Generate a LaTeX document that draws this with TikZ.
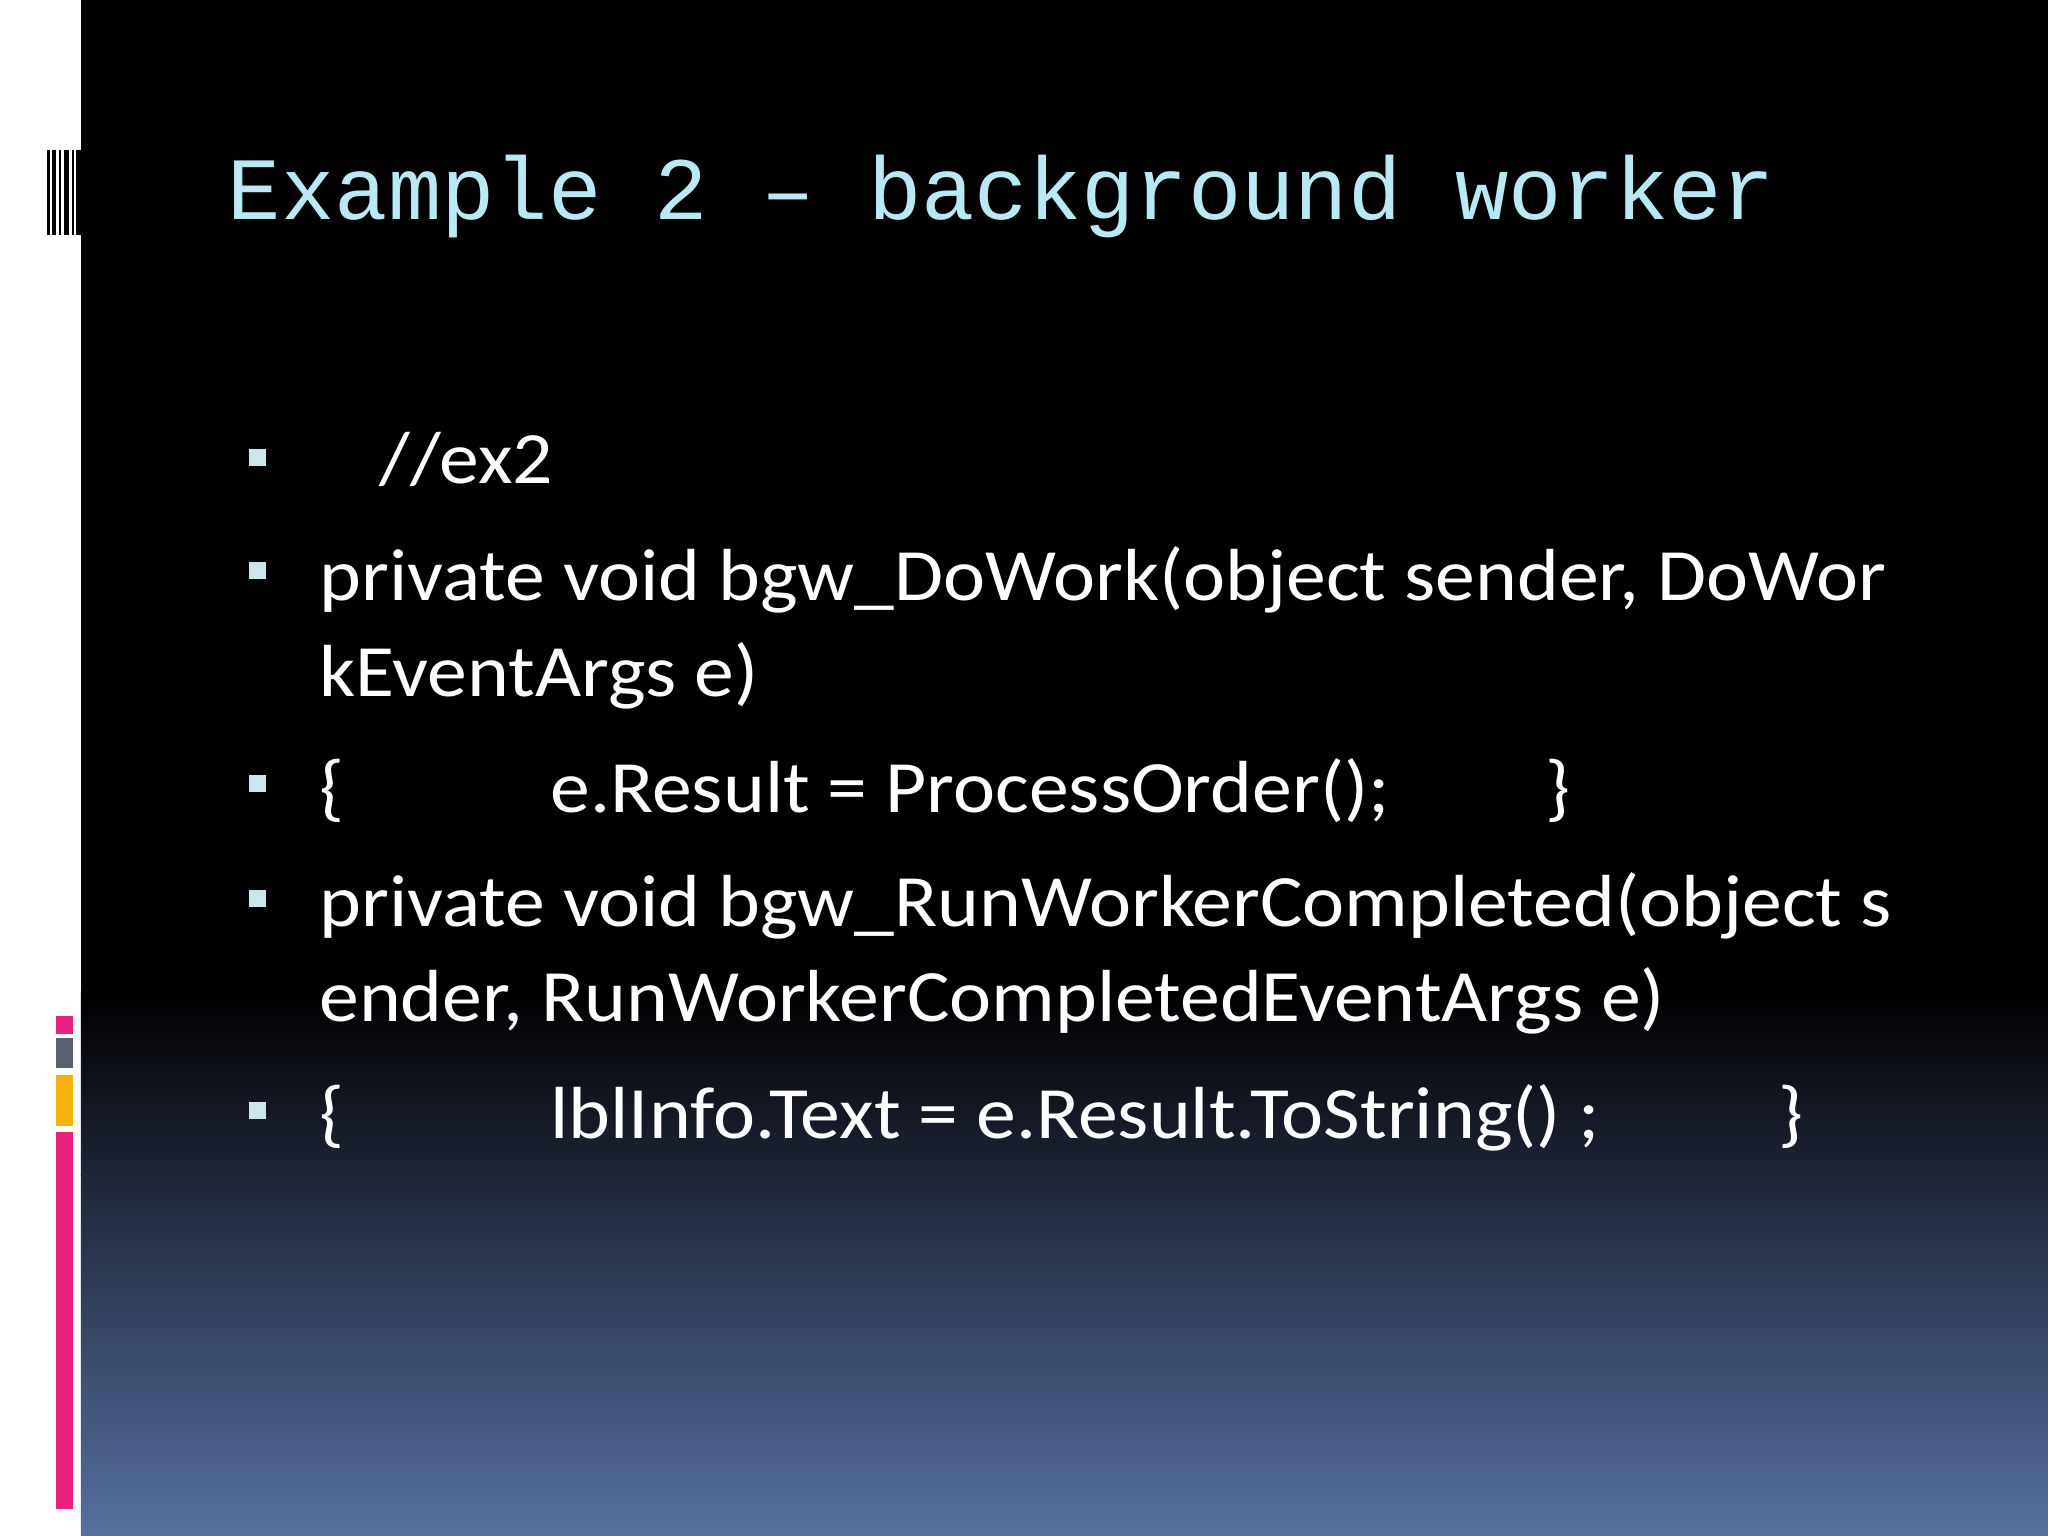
\documentclass[tikz,border=0pt]{standalone}
\usepackage{fontspec}
\setmainfont{Carlito}[FakeStretch=1.08]
\newfontfamily\monof{Liberation Mono}
\definecolor{titlec}{HTML}{B9E9F2}
\definecolor{bulc}{HTML}{CDE6EE}
\definecolor{pinkc}{HTML}{E8207E}
\definecolor{greyc}{HTML}{5A6070}
\definecolor{orangec}{HTML}{F7B20F}
\definecolor{midc}{HTML}{1F2536}
\definecolor{botc}{HTML}{5670A0}
\begin{document}
\begin{tikzpicture}[x=0.01306cm,y=-0.01306cm,
  body/.style={anchor=base west,inner sep=0pt,text=white,font=\fontsize{21}{24}\selectfont},
  bul/.style={fill=bulc,minimum size=0.17cm,inner sep=0pt}]
\useasboundingbox (0,0) rectangle (1568,1176);
\fill[white] (0,0) rectangle (62,1176);
\fill[black] (62,0) rectangle (1568,760);
\shade[top color=black,bottom color=midc] (62,759) rectangle (1568,900);
\shade[top color=midc,bottom color=botc] (62,899) rectangle (1568,1176);
% barcode
\foreach \x/\w in {36/2,40/3,45/2,49/4,55/2,58/4}{\fill[black] (\x,115) rectangle ++(\w,65);}
\fill[pinkc] (43,778) rectangle (56,792);
\fill[greyc] (43,795) rectangle (56,818);
\fill[orangec] (43,823) rectangle (56,862);
\fill[pinkc] (43,867) rectangle (56,1155);
\node[anchor=base west,inner sep=0pt,text=titlec,font=\monof\fontsize{25.3}{28}\selectfont] (title) at (174,168) {Example 2 – background worker};
\foreach \y [count=\i] in {350,437,600,688,850}{\node[bul] (b\i) at (197,\y) {};}
\node[body] (l1) at (290,370) {//ex2};
\node[body] (l2a) at (244,460) {private void bgw\_DoWork(object sender, DoWor};
\node[body] (l2b) at (244,533) {kEventArgs e)};
\node[body] (l3a) at (244,622) {\{};
\node[body] (l3b) at (421,622) {e.Result = ProcessOrder();};
\node[body] (l3c) at (1183,622) {\}};
\node[body] (l4a) at (244,709) {private void bgw\_RunWorkerCompleted(object s};
\node[body] (l4b) at (244,782) {ender, RunWorkerCompletedEventArgs e)};
\node[body] (l5a) at (244,872) {\{};
\node[body] (l5b) at (421,872) {lblInfo.Text = e.Result.ToString() ;};
\node[body] (l5c) at (1361,872) {\}};
\end{tikzpicture}
\end{document}
